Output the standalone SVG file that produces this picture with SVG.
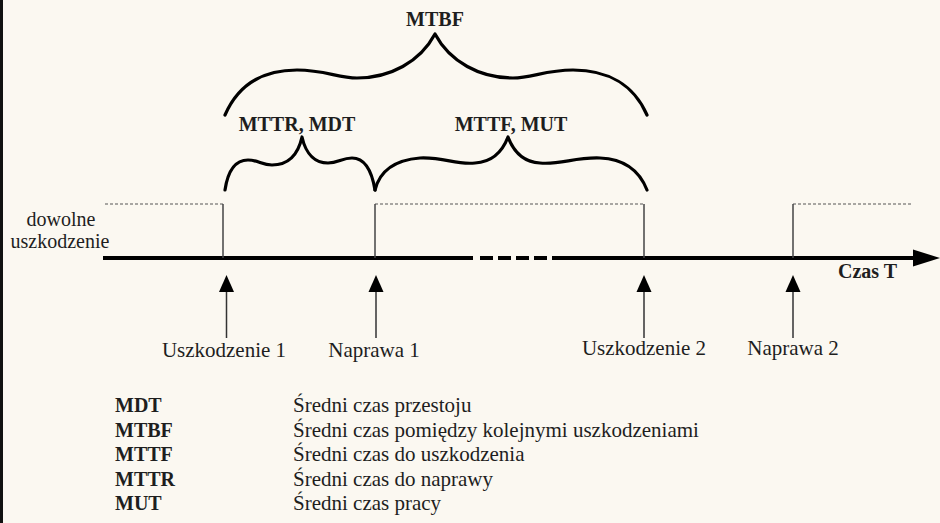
<svg xmlns="http://www.w3.org/2000/svg" width="940" height="523" viewBox="0 0 940 523">
<defs>
<style>
.t{font-family:"Liberation Serif","Times New Roman",serif;fill:#1e1e1e;font-size:21px}
.b{font-weight:bold;font-size:20px}
.s{font-size:20px}
.brace{fill:none;stroke:#000;stroke-width:3.2;stroke-linejoin:round;stroke-linecap:round}
.vl{stroke:#444;stroke-width:1.5;fill:none}
.dl{stroke:#555;stroke-width:1;stroke-dasharray:3 2;fill:none}
.shaft{stroke:#333;stroke-width:1.5}
.head{fill:#000}
</style>
</defs>
<rect x="0" y="0" width="940" height="523" fill="#fbf8f1"/>
<rect x="0" y="0" width="3" height="523" fill="#111"/>

<g id="timeline">
<line x1="103" y1="258" x2="473" y2="258" stroke="#000" stroke-width="4"/>
<line x1="480" y1="258" x2="553" y2="258" stroke="#000" stroke-width="4" stroke-dasharray="13 5"/>
<line x1="553" y1="258" x2="915" y2="258" stroke="#000" stroke-width="4"/>
<polygon points="913,249.5 940,258 913,266.5" fill="#000"/>
<text class="t b" x="838" y="278">Czas T</text>
</g>

<g id="state">
<line class="dl" x1="105" y1="204" x2="223" y2="204"/>
<line class="dl" x1="375" y1="204" x2="644" y2="204"/>
<line class="dl" x1="793" y1="204" x2="913" y2="204"/>
<line class="vl" x1="223" y1="204" x2="223" y2="258"/>
<line class="vl" x1="375" y1="204" x2="375" y2="258"/>
<line class="vl" x1="644" y1="204" x2="644" y2="258"/>
<line class="vl" x1="793" y1="204" x2="793" y2="258"/>
<text class="t s" x="61" y="226" text-anchor="middle">dowolne</text>
<text class="t s" x="60" y="248" text-anchor="middle">uszkodzenie</text>
</g>

<g id="braces">
<path class="brace" d="M225,115 C238,85 262,70 297,70 C325,70 338,78 357,78 C390,78 420,62 435,34 C450,62 480,78 513,78 C532,78 545,70 573,70 C608,70 634,85 647,115"/>
<path class="brace" d="M225,190 C228,170 235,160 248,160 C258,160 262,165 272,165 C288,165 298,155 302,137 C306,155 316,163 328,163 C338,163 342,158 352,158 C366,158 372,172 375,190"/>
<path class="brace" d="M375,190 C380,170 395,160 420,158 C445,157 455,165 475,163 C493,162 503,150 508,137 C513,150 523,162 540,163 C560,165 575,157 600,158 C625,159 640,172 647,190"/>
<text class="t b" x="435" y="26" text-anchor="middle">MTBF</text>
<text class="t b" x="297" y="131" text-anchor="middle">MTTR, MDT</text>
<text class="t b" x="511" y="131" text-anchor="middle">MTTF, MUT</text>
</g>

<g id="event-u1">
<line class="shaft" x1="226.5" y1="338" x2="226.5" y2="290"/>
<polygon class="head" points="226.5,275 234,292 219,292"/>
<text class="t" x="224" y="357" text-anchor="middle">Uszkodzenie 1</text>
</g>
<g id="event-n1">
<line class="shaft" x1="376" y1="338" x2="376" y2="290"/>
<polygon class="head" points="376,275 383.5,292 368.5,292"/>
<text class="t" x="374" y="357" text-anchor="middle">Naprawa 1</text>
</g>
<g id="event-u2">
<line class="shaft" x1="644" y1="338" x2="644" y2="290"/>
<polygon class="head" points="644,275 651.5,292 636.5,292"/>
<text class="t" x="644" y="355" text-anchor="middle">Uszkodzenie 2</text>
</g>
<g id="event-n2">
<line class="shaft" x1="793" y1="338" x2="793" y2="290"/>
<polygon class="head" points="793,275 800.5,292 785.5,292"/>
<text class="t" x="793" y="355" text-anchor="middle">Naprawa 2</text>
</g>

<g id="legend">
<text class="t b" x="115" y="412">MDT</text>
<text class="t b" x="115" y="437">MTBF</text>
<text class="t b" x="115" y="461">MTTF</text>
<text class="t b" x="115" y="486">MTTR</text>
<text class="t b" x="115" y="510">MUT</text>
<text class="t" x="293" y="412">Średni czas przestoju</text>
<text class="t" x="293" y="437">Średni czas pomiędzy kolejnymi uszkodzeniami</text>
<text class="t" x="293" y="461">Średni czas do uszkodzenia</text>
<text class="t" x="293" y="486">Średni czas do naprawy</text>
<text class="t" x="293" y="510">Średni czas pracy</text>
</g>
</svg>
